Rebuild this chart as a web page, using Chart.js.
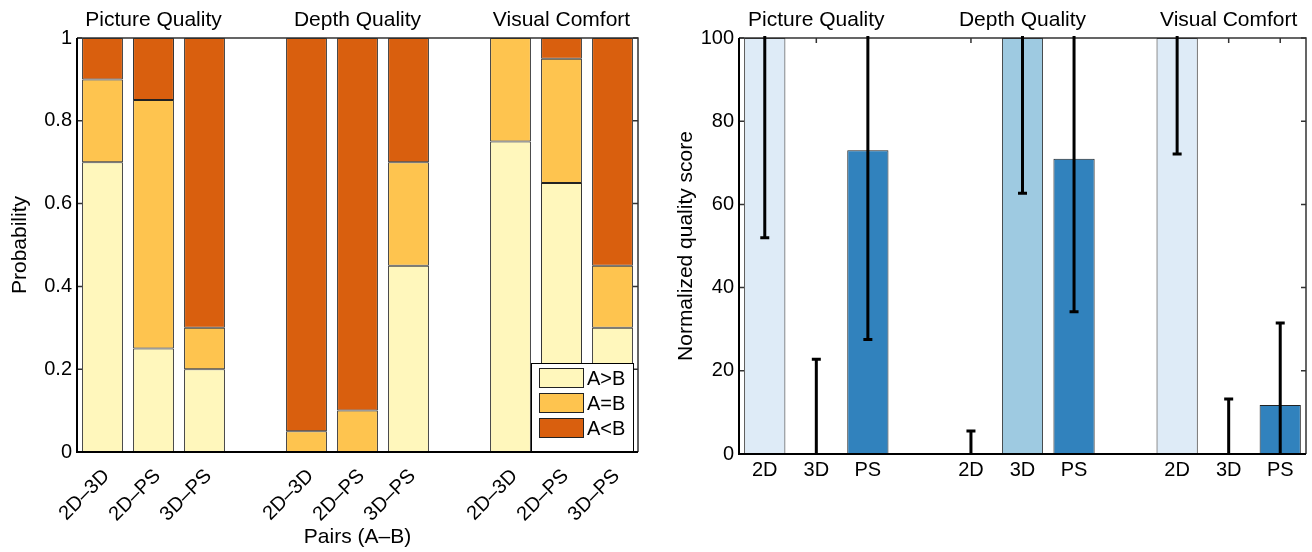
<!DOCTYPE html>
<html>
<head>
<meta charset="utf-8">
<script src="https://cdn.jsdelivr.net/npm/chart.js@4/dist/chart.umd.min.js"></script>
<style>
  body { margin: 0; background: #fff; }
  .panel { position: absolute; top: 0; width: 656px; height: 552px; }
</style>
</head>
<body>
<div class="panel" style="left:0"><canvas id="prob-chart" width="656" height="552"></canvas></div>
<div class="panel" style="left:656px"><canvas id="score-chart" width="656" height="552"></canvas></div>
<script>
// data
const groupTitles = ["Picture Quality", "Depth Quality", "Visual Comfort"];
const pairLabels = ["2D–3D", "2D–PS", "3D–PS", "", "2D–3D", "2D–PS", "3D–PS", "", "2D–3D", "2D–PS", "3D–PS"];
const aGreater = [0.70, 0.25, 0.20, 0, 0.00, 0.00, 0.45, 0, 0.75, 0.65, 0.30];
const aEqual   = [0.20, 0.60, 0.10, 0, 0.05, 0.10, 0.25, 0, 0.25, 0.30, 0.15];
const aLess    = [0.10, 0.15, 0.70, 0, 0.95, 0.90, 0.30, 0, 0.00, 0.05, 0.55];

const methodLabels = ["2D", "3D", "PS", "", "2D", "3D", "PS", "", "2D", "3D", "PS"];
const scoreValues = [100, 0, 73, null, 0, 100, 71, null, 100, 0, 11.8];
const scoreErrors = [48, 22.8, 45.5, null, 5.5, 37.3, 36.8, null, 27.9, 13.2, 19.7];

const methodColors = { "2D": "#deebf7", "3D": "#9ecae1", "PS": "#3182bd" };

const FONT = "'Liberation Sans', Arial, sans-serif";
Chart.defaults.font.family = FONT;
Chart.defaults.font.size = 20;
Chart.defaults.color = "#000";

// box around the plot, thick left/bottom axis, inward ticks, group titles
const framePlugin = {
    id: "frame",
    beforeDatasetsDraw(chart) {
        const { ctx, chartArea: a, scales } = chart;
        ctx.save();
        ctx.strokeStyle = "#333";
        ctx.lineWidth = 1.5;
        ctx.beginPath();
        scales.y.ticks.forEach((t) => {
            const py = scales.y.getPixelForValue(t.value);
            ctx.moveTo(a.left, py); ctx.lineTo(a.left + 5, py);
            ctx.moveTo(a.right, py); ctx.lineTo(a.right - 5, py);
        });
        if (chart.options.plugins.frame.topTicks) {
            chart.data.labels.forEach((lab, i) => {
                if (!lab) return;
                const px = scales.x.getPixelForTick(i);
                ctx.moveTo(px, a.top); ctx.lineTo(px, a.top + 5);
            });
        }
        ctx.stroke();
        ctx.restore();
    },
    afterDatasetsDraw(chart) {
        const { ctx, chartArea: a } = chart;
        ctx.save();
        ctx.strokeStyle = "#333";
        ctx.lineWidth = 1.5;
        ctx.beginPath();
        ctx.moveTo(a.left, a.top); ctx.lineTo(a.right, a.top); ctx.lineTo(a.right, a.bottom);
        ctx.stroke();
        ctx.strokeStyle = "#000";
        ctx.lineWidth = 2;
        ctx.beginPath();
        ctx.moveTo(a.left, a.top); ctx.lineTo(a.left, a.bottom); ctx.lineTo(a.right, a.bottom);
        ctx.stroke();
        ctx.restore();
    },
    afterDraw(chart) {
        const { ctx, chartArea: a, scales: { x } } = chart;
        ctx.save();
        ctx.font = "21px " + FONT;
        ctx.fillStyle = "#000";
        ctx.textAlign = "center";
        ctx.textBaseline = "alphabetic";
        groupTitles.forEach((title, g) => {
            ctx.fillText(title, x.getPixelForTick(g * 4 + 1), 26);
        });
        // 45 degree tick labels, right end just below each bar
        if (chart.options.plugins.frame.rotatedLabels) {
            ctx.font = "20px " + FONT;
            ctx.textAlign = "right";
            ctx.textBaseline = "middle";
            chart.data.labels.forEach((lab, i) => {
                if (!lab) return;
                ctx.save();
                ctx.translate(x.getPixelForTick(i) + 4, a.bottom + 21);
                ctx.rotate(-Math.PI / 4);
                ctx.fillText(lab, 0, 0);
                ctx.restore();
            });
        }
        ctx.restore();
    },
};

// legend box inside the lower right corner of the probability plot
const boxLegend = {
    id: "boxLegend",
    afterDraw(chart) {
        const { ctx, chartArea: a } = chart;
        const w = 102, h = 88;
        const left = a.right - 5 - w, top = a.bottom - 1 - h;
        ctx.save();
        ctx.fillStyle = "#fff";
        ctx.fillRect(left, top, w, h);
        ctx.strokeStyle = "#000";
        ctx.lineWidth = 1;
        ctx.strokeRect(left + 0.5, top + 0.5, w, h);
        ctx.font = "20px " + FONT;
        ctx.textBaseline = "middle";
        chart.data.datasets.forEach((ds, i) => {
            const y0 = top + 5 + i * 25;
            ctx.fillStyle = ds.backgroundColor;
            ctx.fillRect(left + 8, y0, 44, 19);
            ctx.strokeStyle = "#222";
            ctx.strokeRect(left + 8.5, y0 + 0.5, 44, 19);
            ctx.fillStyle = "#000";
            ctx.fillText(ds.label, left + 56, y0 + 11);
        });
        ctx.restore();
    },
};

// vertical error bars with caps, clipped to the plot
const errorBars = {
    id: "errorBars",
    afterDatasetsDraw(chart) {
        const { ctx, chartArea: a, scales: { x, y } } = chart;
        ctx.save();
        ctx.beginPath();
        ctx.rect(a.left, a.top - 2, a.right - a.left, a.bottom - a.top + 2);
        ctx.clip();
        ctx.strokeStyle = "#000";
        ctx.lineWidth = 3;
        scoreValues.forEach((v, i) => {
            if (v === null) return;
            const px = x.getPixelForTick(i);
            const lo = y.getPixelForValue(v - scoreErrors[i]);
            const hi = y.getPixelForValue(v + scoreErrors[i]);
            ctx.beginPath();
            ctx.moveTo(px, lo); ctx.lineTo(px, hi);
            ctx.moveTo(px - 4.5, lo); ctx.lineTo(px + 4.5, lo);
            ctx.moveTo(px - 4.5, hi); ctx.lineTo(px + 4.5, hi);
            ctx.stroke();
        });
        ctx.restore();
    },
};

new Chart(document.getElementById("prob-chart").getContext("2d"), {
    type: "bar",
    data: {
        labels: pairLabels,
        datasets: [
            { label: "A>B", data: aGreater, backgroundColor: "#fff7bc" },
            { label: "A=B", data: aEqual, backgroundColor: "#fec44f" },
            { label: "A<B", data: aLess, backgroundColor: "#d95f0e" },
        ].map((ds) => ({ ...ds, borderColor: "#222", borderWidth: 1, borderSkipped: false, barPercentage: 0.8, categoryPercentage: 1 })),
    },
    options: {
        responsive: false,
        animation: false,
        layout: { padding: { left: 4, right: 18, top: 38, bottom: 2 } },
        plugins: { legend: { display: false }, tooltip: { enabled: false }, frame: { rotatedLabels: true } },
        scales: {
            x: {
                stacked: true,
                grid: { display: false, drawTicks: false },
                border: { display: false },
                ticks: { display: false },
                title: { display: true, text: "Pairs (A–B)", font: { size: 21 }, padding: { top: 0, bottom: 0 } },
                afterFit: (s) => { s.height = 98; },
            },
            y: {
                stacked: true,
                min: 0,
                max: 1,
                grid: { display: false, drawTicks: false },
                border: { display: false },
                ticks: { stepSize: 0.2, padding: 5, callback: (v) => String(+v.toFixed(1)) },
                title: { display: true, text: "Probability", font: { size: 21 } },
                afterFit: (s) => { s.width = 73; },
            },
        },
    },
    plugins: [framePlugin, boxLegend],
});

new Chart(document.getElementById("score-chart").getContext("2d"), {
    type: "bar",
    data: {
        labels: methodLabels,
        datasets: [{
            data: scoreValues,
            backgroundColor: methodLabels.map((m) => methodColors[m] || "#fff"),
            borderColor: "#222",
            borderWidth: 1,
            borderSkipped: false,
            barPercentage: 0.8,
            categoryPercentage: 1,
        }],
    },
    options: {
        responsive: false,
        animation: false,
        layout: { padding: { left: 14, right: 6, top: 38, bottom: 0 } },
        plugins: { legend: { display: false }, tooltip: { enabled: false }, frame: { topTicks: true } },
        scales: {
            x: {
                grid: { display: false, drawTicks: false },
                border: { display: false },
                ticks: { autoSkip: false, maxRotation: 0, padding: 4 },
                afterFit: (s) => { s.height = 98; },
            },
            y: {
                min: 0,
                max: 100,
                grid: { display: false, drawTicks: false },
                border: { display: false },
                ticks: { stepSize: 20, padding: 5 },
                title: { display: true, text: "Normalized quality score", font: { size: 21 } },
                afterFit: (s) => { s.width = 69; },
            },
        },
    },
    plugins: [framePlugin, errorBars],
});
</script>
</body>
</html>
